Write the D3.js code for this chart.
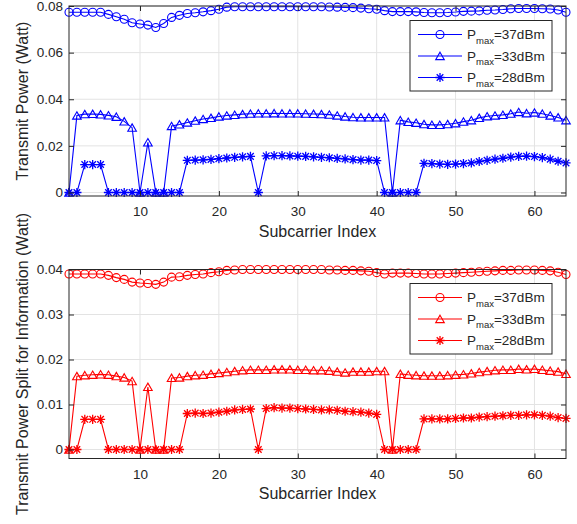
<!DOCTYPE html>
<html>
<head>
<meta charset="utf-8">
<script src="https://cdn.jsdelivr.net/npm/d3@7"></script>
<style>
  body { margin: 0; background: #fff; }
  text { font-family: "Liberation Sans", Arial, sans-serif; fill: #262626; }
</style>
</head>
<body>
<div id="chart"></div>
<script>
// data
var subcarrier = d3.range(1, 65);
var legendNames = ["=37dBm", "=33dBm", "=28dBm"];
var xTicks = [10, 20, 30, 40, 50, 60];
var topTicks = [0, 0.02, 0.04, 0.06, 0.08];
var bottomTicks = [0, 0.01, 0.02, 0.03, 0.04];

var top37 = [
  0.0773, 0.0773, 0.0773, 0.0773, 0.0773, 0.0764, 0.0754, 0.0743, 0.0728, 0.0723,
  0.0718, 0.0708, 0.0725, 0.0751, 0.0760, 0.0768, 0.0771, 0.0775, 0.0780, 0.0786,
  0.0795, 0.0797, 0.0797, 0.0797, 0.0797, 0.0797, 0.0797, 0.0797, 0.0797, 0.0797,
  0.0797, 0.0797, 0.0797, 0.0796, 0.0795, 0.0794, 0.0793, 0.0791, 0.0788, 0.0786,
  0.0780, 0.0776, 0.0776, 0.0776, 0.0775, 0.0772, 0.0771, 0.0771, 0.0772, 0.0774,
  0.0777, 0.0778, 0.0779, 0.0782, 0.0783, 0.0785, 0.0788, 0.0789, 0.0789, 0.0789,
  0.0788, 0.0787, 0.0783, 0.0773];
var top33 = [
  0, 0.0330, 0.0336, 0.0337, 0.0335, 0.0331, 0.0325, 0.0305, 0.0278, 0,
  0.0215, 0, 0, 0.0285, 0.0292, 0.0300, 0.0308, 0.0315, 0.0320, 0.0326,
  0.0330, 0.0333, 0.0336, 0.0338, 0.0339, 0.0339, 0.0340, 0.0339, 0.0339, 0.0339,
  0.0338, 0.0337, 0.0336, 0.0334, 0.0330, 0.0326, 0.0323, 0.0322, 0.0322, 0.0322,
  0.0322, 0, 0.0310, 0.0303, 0.0299, 0.0293, 0.0290, 0.0290, 0.0293, 0.0297,
  0.0304, 0.0310, 0.0320, 0.0327, 0.0330, 0.0333, 0.0338, 0.0345, 0.0340, 0.0343,
  0.0338, 0.0330, 0.0322, 0.0310];
var top28 = [
  0, 0, 0.0120, 0.0120, 0.0120, 0, 0, 0, 0, 0,
  0, 0, 0, 0, 0, 0.0138, 0.0139, 0.0140, 0.0142, 0.0145,
  0.0148, 0.0151, 0.0153, 0.0155, 0, 0.0157, 0.0158, 0.0158, 0.0157, 0.0156,
  0.0155, 0.0153, 0.0151, 0.0149, 0.0146, 0.0144, 0.0141, 0.0139, 0.0139, 0.0137,
  0, 0, 0, 0, 0, 0.0125, 0.0124, 0.0122, 0.0121, 0.0122,
  0.0124, 0.0127, 0.0133, 0.0138, 0.0143, 0.0147, 0.0152, 0.0155, 0.0156, 0.0154,
  0.0150, 0.0143, 0.0134, 0.0127];

var bot37 = [
  0.0390, 0.0390, 0.0390, 0.0390, 0.0390, 0.0387, 0.0382, 0.0378, 0.0372, 0.0370,
  0.0369, 0.0367, 0.0372, 0.0383, 0.0384, 0.0387, 0.0389, 0.0390, 0.0393, 0.0395,
  0.0398, 0.0399, 0.0400, 0.0400, 0.0400, 0.0400, 0.0400, 0.0400, 0.0400, 0.0400,
  0.0400, 0.0400, 0.0400, 0.0399, 0.0399, 0.0398, 0.0398, 0.0397, 0.0396, 0.0393,
  0.0390, 0.0392, 0.0392, 0.0392, 0.0391, 0.0390, 0.0390, 0.0390, 0.0391, 0.0392,
  0.0393, 0.0394, 0.0395, 0.0396, 0.0397, 0.0398, 0.0398, 0.0399, 0.0399, 0.0399,
  0.0398, 0.0397, 0.0394, 0.0389];
var bot33 = [
  0, 0.0163, 0.0165, 0.0166, 0.0167, 0.0166, 0.0163, 0.0160, 0.0152, 0,
  0.0139, 0, 0, 0.0159, 0.0160, 0.0163, 0.0165, 0.0166, 0.0168, 0.0170,
  0.0172, 0.0174, 0.0176, 0.0177, 0.0177, 0.0177, 0.0178, 0.0178, 0.0178, 0.0177,
  0.0177, 0.0176, 0.0176, 0.0175, 0.0173, 0.0171, 0.0173, 0.0173, 0.0173, 0.0174,
  0.0174, 0, 0.0168, 0.0166, 0.0165, 0.0164, 0.0164, 0.0164, 0.0165, 0.0166,
  0.0167, 0.0169, 0.0172, 0.0174, 0.0176, 0.0177, 0.0177, 0.0179, 0.0178, 0.0179,
  0.0177, 0.0175, 0.0173, 0.0168];
var bot28 = [
  0, 0, 0.0067, 0.0067, 0.0067, 0, 0, 0, 0, 0,
  0, 0, 0, 0, 0, 0.0080, 0.0081, 0.0080, 0.0081, 0.0083,
  0.0085, 0.0088, 0.0089, 0.0090, 0, 0.0091, 0.0093, 0.0092, 0.0092, 0.0091,
  0.0090, 0.0089, 0.0088, 0.0088, 0.0087, 0.0085, 0.0084, 0.0083, 0.0081, 0.0078,
  0, 0, 0, 0, 0, 0.0068, 0.0068, 0.0068, 0.0068, 0.0069,
  0.0070, 0.0070, 0.0072, 0.0073, 0.0074, 0.0075, 0.0076, 0.0076, 0.0077, 0.0077,
  0.0076, 0.0074, 0.0071, 0.0069];

// svg setup
svgWidth = 577;
svgHeight = 524;
var plotLeft = 69, plotRight = 566;
var tickFont = 13.5, labelFont = 16;

svg = d3.select("#chart")
  .append("svg")
  .attr("width", svgWidth)
  .attr("height", svgHeight);

// marker shapes (matlab style: o, ^, *)
var markers = [
  function () { return d3.symbol().type(d3.symbolCircle).size(Math.PI * 16)(); },
  function () { return "M0,-3.8L4.3,3.6L-4.3,3.6Z"; },
  function () { return "M-4.6,0H4.6M0,-4.6V4.6M-3.3,-3.3L3.3,3.3M-3.3,3.3L3.3,-3.3"; }
];

function drawPanel(opts) {
  var g = svg.append("g");

  var x = d3.scaleLinear().domain([1, 64]).range([plotLeft, plotRight]);
  var y = d3.scaleLinear().domain(opts.yDomain).range([opts.bottom, opts.top]);

  // grid
  g.selectAll(".xgrid").data(xTicks).enter().append("line")
    .attr("x1", d => x(d)).attr("x2", d => x(d))
    .attr("y1", opts.top).attr("y2", opts.bottom)
    .attr("stroke", "#e3e3e3").attr("stroke-width", 1);
  g.selectAll(".ygrid").data(opts.yTicks).enter().append("line")
    .attr("x1", plotLeft).attr("x2", plotRight)
    .attr("y1", d => y(d)).attr("y2", d => y(d))
    .attr("stroke", "#e3e3e3").attr("stroke-width", 1);

  // series
  var line = d3.line().x((d, i) => x(subcarrier[i])).y(d => y(d));
  opts.series.forEach(function (vals, k) {
    g.append("path").datum(vals)
      .attr("d", line)
      .attr("fill", "none")
      .attr("stroke", opts.color)
      .attr("stroke-width", 1.1);
    g.selectAll(".m" + k).data(vals).enter().append("path")
      .attr("transform", (d, i) => `translate(${x(subcarrier[i])},${y(d)})`)
      .attr("d", markers[k]())
      .attr("fill", "none")
      .attr("stroke", opts.color)
      .attr("stroke-width", k == 2 ? 1.3 : 1.1);
  });

  // axes with inward ticks
  var fmt = d3.format("~g");
  var xAxis = g.append("g")
    .attr("transform", `translate(0, ${opts.bottom})`)
    .call(d3.axisBottom(x).tickValues(xTicks).tickSize(-5).tickPadding(10.5));
  var xAxisTop = g.append("g")
    .attr("transform", `translate(0, ${opts.top})`)
    .call(d3.axisTop(x).tickValues(xTicks).tickSize(-5).tickFormat(""));
  var yAxis = g.append("g")
    .attr("transform", `translate(${plotLeft}, 0)`)
    .call(d3.axisLeft(y).tickValues(opts.yTicks).tickSize(-5).tickPadding(6).tickFormat(fmt));
  var yAxisRight = g.append("g")
    .attr("transform", `translate(${plotRight}, 0)`)
    .call(d3.axisRight(y).tickValues(opts.yTicks).tickSize(-5).tickFormat(""));
  [xAxis, xAxisTop, yAxis, yAxisRight].forEach(function (a) {
    a.select(".domain").remove();
    a.selectAll("line").attr("stroke", "#262626");
    a.selectAll("text").attr("font-size", tickFont).attr("font-family", null).attr("fill", "#262626");
  });

  // box
  g.append("rect")
    .attr("x", plotLeft).attr("y", opts.top)
    .attr("width", plotRight - plotLeft).attr("height", opts.bottom - opts.top)
    .attr("fill", "none").attr("stroke", "#262626").attr("stroke-width", 1);

  // labels
  g.append("text")
    .attr("x", (plotLeft + plotRight) / 2).attr("y", opts.bottom + 40.5)
    .attr("text-anchor", "middle").attr("font-size", labelFont)
    .text("Subcarrier Index");
  g.append("text")
    .attr("transform", `translate(22, ${(opts.top + opts.bottom) / 2}) rotate(-90)`)
    .attr("dy", "0.35em")
    .attr("text-anchor", "middle").attr("font-size", labelFont)
    .text(opts.yLabel);

  // legend
  var lg = g.append("g").attr("transform", `translate(410, ${opts.legendTop})`);
  lg.append("rect").attr("width", 142).attr("height", 70.5)
    .attr("fill", "#fff").attr("stroke", "#262626").attr("stroke-width", 1);
  legendNames.forEach(function (name, k) {
    var ly = 14 + k * 21.5;
    lg.append("line").attr("x1", 8).attr("x2", 52).attr("y1", ly).attr("y2", ly)
      .attr("stroke", opts.color).attr("stroke-width", 1.1);
    lg.append("path").attr("transform", `translate(30, ${ly})`)
      .attr("d", markers[k]()).attr("fill", "none")
      .attr("stroke", opts.color).attr("stroke-width", k == 2 ? 1.3 : 1.1);
    var t = lg.append("text").attr("x", 57).attr("y", ly + 4.8).attr("font-size", tickFont);
    t.append("tspan").text("P");
    t.append("tspan").attr("font-size", 9.5).attr("dy", 4.5).text("max");
    t.append("tspan").attr("dy", -4.5).text(name);
  });
}

drawPanel({
  top: 6, bottom: 196,
  yDomain: [-0.0015, 0.08], yTicks: topTicks,
  series: [top37, top33, top28], color: "#0000ff",
  yLabel: "Transmit Power (Watt)", legendTop: 20.5
});

drawPanel({
  top: 269.5, bottom: 458.5,
  yDomain: [-0.002, 0.04], yTicks: bottomTicks,
  series: [bot37, bot33, bot28], color: "#ff0000",
  yLabel: "Transmit Power Split for Information (Watt)", legendTop: 283.5
});
</script>
</body>
</html>
